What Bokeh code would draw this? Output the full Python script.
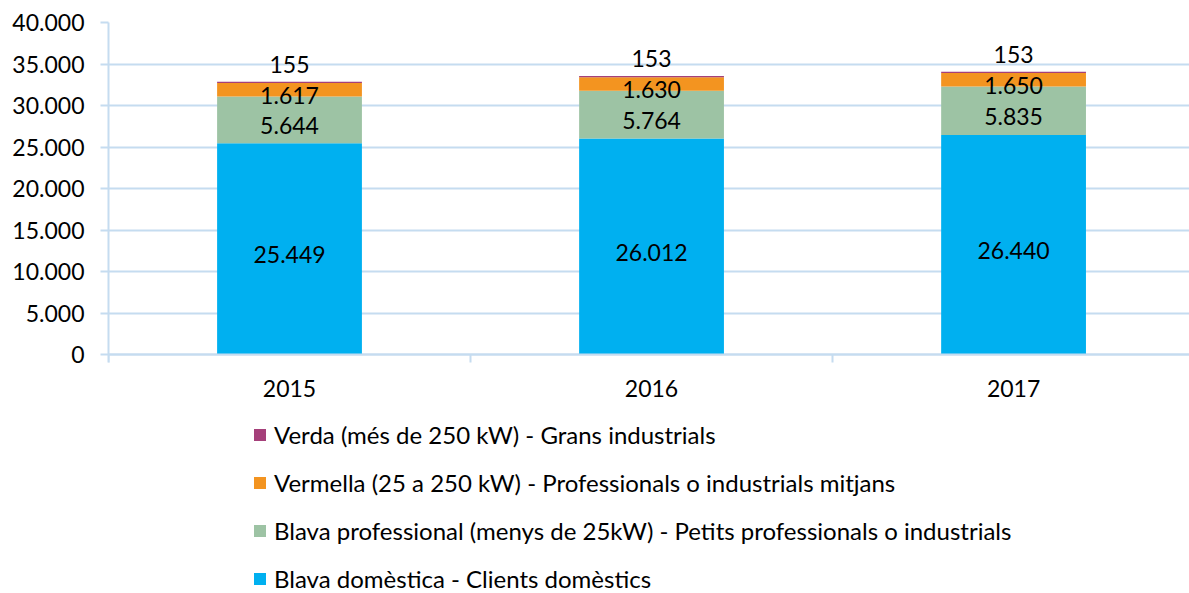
from bokeh.plotting import figure
from bokeh.models import (Range1d, FixedTicker, Legend, LegendItem, ColumnDataSource)
from bokeh.core.properties import value
from bokeh.embed import file_html
from bokeh.resources import INLINE

years = ["2015", "2016", "2017"]
domestica = [25449, 26012, 26440]
professional = [5644, 5764, 5835]
vermella = [1617, 1630, 1650]
verda = [155, 153, 153]

names = [
    "Blava domèstica - Clients domèstics",
    "Blava professional (menys de 25kW) - Petits professionals o industrials",
    "Vermella (25 a 250 kW) - Professionals o industrials mitjans",
    "Verda (més de 250 kW) - Grans industrials",
]
colors = ["#00B0F0", "#9DC3A4", "#F39420", "#A5407A"]
keys = ["dom", "pro", "ver", "gre"]
y_ticks = [0, 5000, 10000, 15000, 20000, 25000, 30000, 35000, 40000]

FONT = "Lato"
FS = "23px"
GRID = "#C5DCF0"

# layout in pixels: plot area 332px tall for 0..40000, extra room below for axis+legend
FRAME_H = 571
PLOT_H = 332
y_top = 40000
y_bottom = -(FRAME_H - PLOT_H) * y_top / PLOT_H

xs = [i + 0.5 for i in range(len(years))]
src = ColumnDataSource(dict(x=xs, dom=domestica, pro=professional, ver=vermella, gre=verda))

p = figure(width=1189, height=593, output_backend="svg", toolbar_location=None,
           x_range=Range1d(0, 2.986), y_range=Range1d(y_bottom, y_top),
           min_border_left=108, min_border_top=22, min_border_right=0, min_border_bottom=0)
p.outline_line_color = None
p.background_fill_color = "white"
p.border_fill_color = "white"

rs = p.vbar_stack(keys, x="x", width=0.4, source=src, color=colors, line_color=None)

# data labels
bottoms = [0, 0, 0]
label_sets = [domestica, professional, vermella]
for vals in label_sets:
    mids = [b + v / 2 for b, v in zip(bottoms, vals)]
    txt = [f"{v:,}".replace(",", ".") for v in vals]
    p.text(x=xs, y=mids, text=txt, text_align="center", text_baseline="middle",
           text_font=value(FONT), text_font_size=FS, text_color="#000000", y_offset=6)
    bottoms = [b + v for b, v in zip(bottoms, vals)]
tops = [b + v for b, v in zip(bottoms, verda)]
p.text(x=xs, y=tops, text=[str(v) for v in verda], text_align="center", text_baseline="bottom",
       text_font=value(FONT), text_font_size=FS, text_color="#000000", y_offset=-9)

# axes
p.yaxis.ticker = FixedTicker(ticks=y_ticks)
p.yaxis.bounds = (-970, 40000)
p.yaxis.major_label_overrides = {t: f"{t:,}".replace(",", ".") for t in y_ticks}
p.yaxis.major_label_text_font = FONT
p.yaxis.major_label_text_font_size = FS
p.yaxis.major_label_text_color = "#000000"
p.yaxis.axis_line_color = GRID
p.yaxis.axis_line_width = 2
p.yaxis.major_tick_line_color = GRID
p.yaxis.major_tick_line_width = 2
p.yaxis.major_tick_out = 8
p.yaxis.major_tick_in = 0
p.yaxis.minor_tick_line_color = None
p.yaxis.major_label_standoff = 16

p.xaxis.fixed_location = 0
p.xaxis.ticker = FixedTicker(ticks=xs, minor_ticks=[0, 1, 2, 3])
p.xaxis.major_label_overrides = {x: y for x, y in zip(xs, years)}
p.xaxis.major_label_text_font = FONT
p.xaxis.major_label_text_font_size = FS
p.xaxis.major_label_text_color = "#000000"
p.xaxis.axis_line_color = GRID
p.xaxis.axis_line_width = 2
p.xaxis.major_tick_line_color = None
p.xaxis.minor_tick_line_color = GRID
p.xaxis.minor_tick_line_width = 2
p.xaxis.minor_tick_out = 8
p.xaxis.minor_tick_in = 0
p.xaxis.major_label_standoff = 17

p.xgrid.grid_line_color = None
p.ygrid.grid_line_color = GRID
p.ygrid.grid_line_width = 2

items = [LegendItem(label=names[i], renderers=[rs[i]]) for i in [3, 2, 1, 0]]
legend = Legend(items=items, orientation="vertical", location=(144, 0),
                label_text_font=FONT, label_text_font_size="24px", label_text_color="#000000",
                glyph_width=15, glyph_height=15, label_height=24, spacing=19,
                label_standoff=7, padding=0, margin=0, border_line_color=None,
                background_fill_alpha=0)
p.add_layout(legend, "center")

open("out.html", "w").write(file_html(p, INLINE))
